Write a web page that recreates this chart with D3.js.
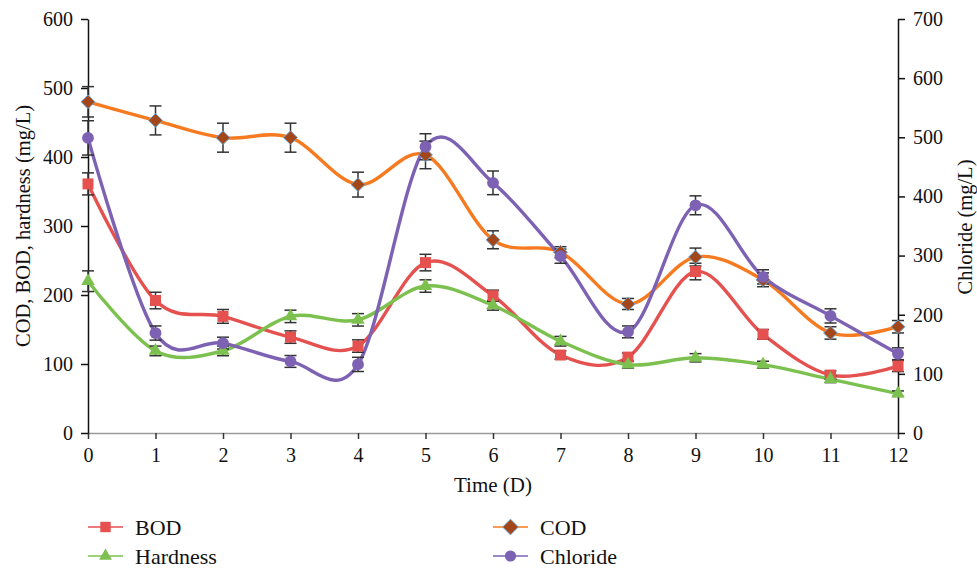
<!DOCTYPE html>
<html>
<head>
<meta charset="utf-8">
<script src="https://cdn.jsdelivr.net/npm/d3@7"></script>
<style>
 body { margin: 0; background: #fff; }
 svg text { font-family: "Liberation Serif", "DejaVu Serif", serif; fill: #111; }
</style>
</head>
<body>
<svg id="graph"></svg>
<script>
// days on the x axis
let days = [0, 1, 2, 3, 4, 5, 6, 7, 8, 9, 10, 11, 12];

// left axis series (mg/L)
let bod = [361, 192, 169, 139, 126, 247, 199, 113, 110, 234, 143, 84, 97];
let bodErr = [16, 12, 10, 9, 9, 12, 8, 6, 6, 12, 7, 6, 8];
let cod = [480, 453, 428, 428, 360, 403, 280, 262, 187, 255, 222, 145, 154];
let codErr = [22, 21, 21, 21, 18, 20, 13, 8, 8, 13, 10, 9, 9];
let hardness = [220, 119, 119, 169, 164, 213, 185, 133, 99, 109, 99, 78, 57];
let hardnessErr = [15, 7, 7, 9, 9, 9, 7, 7, 5, 6, 5, 5, 4];

// right axis series (mg/L)
let chloride = [499, 169, 152, 121, 116, 484, 423, 299, 171, 385, 264, 198, 134];
let chlorideErr = [29, 12, 10, 10, 12, 22, 20, 12, 10, 16, 12, 12, 10];

let leftTicks = [0, 100, 200, 300, 400, 500, 600];
let rightTicks = [0, 100, 200, 300, 400, 500, 600, 700];

let width = 977;
let height = 568;
let x0 = 88, x1 = 898;
let yTop = 19, yBottom = 433;

let svg = d3.select("#graph")
 .attr("width", width)
 .attr("height", height);

let scaleX = d3.scaleLinear().domain([0, 12]).range([x0, x1]);
let scaleY = d3.scaleLinear().domain([0, 600]).range([yBottom, yTop]);
let scaleY2 = d3.scaleLinear().domain([0, 700]).range([yBottom, yTop]);

// x axis (grey line, dark ticks)
let gx = svg.append("g")
 .attr("transform", `translate(0, ${yBottom})`)
 .call(d3.axisBottom(scaleX).tickValues(days).tickSize(6).tickPadding(9).tickSizeOuter(0));
gx.select(".domain").attr("stroke", "#9a9a9a").attr("stroke-width", 1.5);
gx.selectAll(".tick line").attr("stroke", "#333").attr("stroke-width", 1.5);
gx.selectAll("text").style("font-size", "20px").attr("fill", "#111");

// left axis
let gy = svg.append("g")
 .attr("transform", `translate(${x0}, 0)`)
 .call(d3.axisLeft(scaleY).tickValues(leftTicks).tickSize(7).tickPadding(8).tickSizeOuter(0));
gy.select(".domain").attr("stroke", "#111").attr("stroke-width", 1.5);
gy.selectAll(".tick line").attr("stroke", "#111").attr("stroke-width", 1.5);
gy.selectAll("text").style("font-size", "20px").attr("fill", "#111");

// right axis
let gy2 = svg.append("g")
 .attr("transform", `translate(${x1}, 0)`)
 .call(d3.axisRight(scaleY2).tickValues(rightTicks).tickSize(7).tickPadding(8).tickSizeOuter(0));
gy2.select(".domain").attr("stroke", "#111").attr("stroke-width", 1.5);
gy2.selectAll(".tick line").attr("stroke", "#111").attr("stroke-width", 1.5);
gy2.selectAll("text").style("font-size", "20px").attr("fill", "#111");

// axis titles
svg.append("text")
 .attr("transform", `translate(30, 226) rotate(-90)`)
 .attr("text-anchor", "middle")
 .style("font-size", "20.5px")
 .text("COD, BOD, hardness (mg/L)");

svg.append("text")
 .attr("transform", `translate(972, 227) rotate(-90)`)
 .attr("text-anchor", "middle")
 .style("font-size", "20.5px")
 .text("Chloride (mg/L)");

svg.append("text")
 .attr("x", 493)
 .attr("y", 492)
 .attr("text-anchor", "middle")
 .style("font-size", "21px")
 .text("Time (D)");

// diamond = square turned by 45 degrees
let diamond = {
 draw: function(ctx, size) {
 let r = Math.sqrt(size / 2);
 ctx.moveTo(0, -r);
 ctx.lineTo(r, 0);
 ctx.lineTo(0, r);
 ctx.lineTo(-r, 0);
 ctx.closePath();
 }
};

let series = [
 { name: "BOD", values: bod, err: bodErr, scale: scaleY, color: "#e4514f", mfill: "#e4514f", mstroke: "none", symbol: d3.symbolSquare, size: 121 },
 { name: "Hardness", values: hardness, err: hardnessErr, scale: scaleY, color: "#7cc14f", mfill: "#7cc14f", mstroke: "none", symbol: d3.symbolTriangle, size: 80 },
 { name: "COD", values: cod, err: codErr, scale: scaleY, color: "#f67a1f", mfill: "#a3461a", mstroke: "#6aa7d6", symbol: diamond, size: 95 },
 { name: "Chloride", values: chloride, err: chlorideErr, scale: scaleY2, color: "#7d61b3", mfill: "#7d61b3", mstroke: "none", symbol: d3.symbolCircle, size: 110 }
];

// draw order: lines first, then error bars, then markers
series.forEach(function(s) {
 let line = d3.line()
 .x((d, i) => scaleX(days[i]))
 .y(d => s.scale(d))
 .curve(d3.curveCardinal.tension(0));
 svg.append("path")
 .datum(s.values)
 .attr("d", line)
 .attr("fill", "none")
 .attr("stroke", s.color)
 .attr("stroke-width", 3.4)
 .attr("stroke-linejoin", "round");
});

series.forEach(function(s) {
 let g = svg.append("g").attr("stroke", "#333").attr("stroke-width", 1.5);
 s.values.forEach(function(v, i) {
 let cx = scaleX(days[i]);
 let ya = s.scale(v + s.err[i]);
 let yb = s.scale(v - s.err[i]);
 g.append("line").attr("x1", cx).attr("x2", cx).attr("y1", ya).attr("y2", yb);
 g.append("line").attr("x1", cx - 6).attr("x2", cx + 6).attr("y1", ya).attr("y2", ya);
 g.append("line").attr("x1", cx - 6).attr("x2", cx + 6).attr("y1", yb).attr("y2", yb);
 });
});

series.forEach(function(s) {
 svg.append("g")
 .selectAll("path")
 .data(s.values)
 .enter()
 .append("path")
 .attr("d", d3.symbol().type(s.symbol).size(s.size))
 .attr("transform", (d, i) => `translate(${scaleX(days[i])}, ${s.scale(d)})`)
 .attr("fill", s.mfill)
 .attr("stroke", s.mstroke)
 .attr("stroke-width", 1);
});

// legend
let legendPos = [
 { x: 88, y: 527 },
 { x: 88, y: 556 },
 { x: 493, y: 527 },
 { x: 493, y: 556 }
];
series.forEach(function(s, i) {
 let p = legendPos[i];
 let g = svg.append("g").attr("transform", `translate(${p.x}, ${p.y})`);
 g.append("line").attr("x1", 0).attr("x2", 35).attr("y1", 0).attr("y2", 0)
 .attr("stroke", s.color).attr("stroke-width", 1.5);
 g.append("path")
 .attr("d", d3.symbol().type(s.symbol).size(s.size * (s.symbol === diamond ? 1.3 : 0.9)))
 .attr("transform", "translate(17.5, 0)")
 .attr("fill", s.mfill)
 .attr("stroke", s.mstroke)
 .attr("stroke-width", 1);
 g.append("text")
 .attr("x", 47)
 .attr("y", 7.5)
 .style("font-size", "22px")
 .text(s.name);
});
</script>
</body>
</html>
